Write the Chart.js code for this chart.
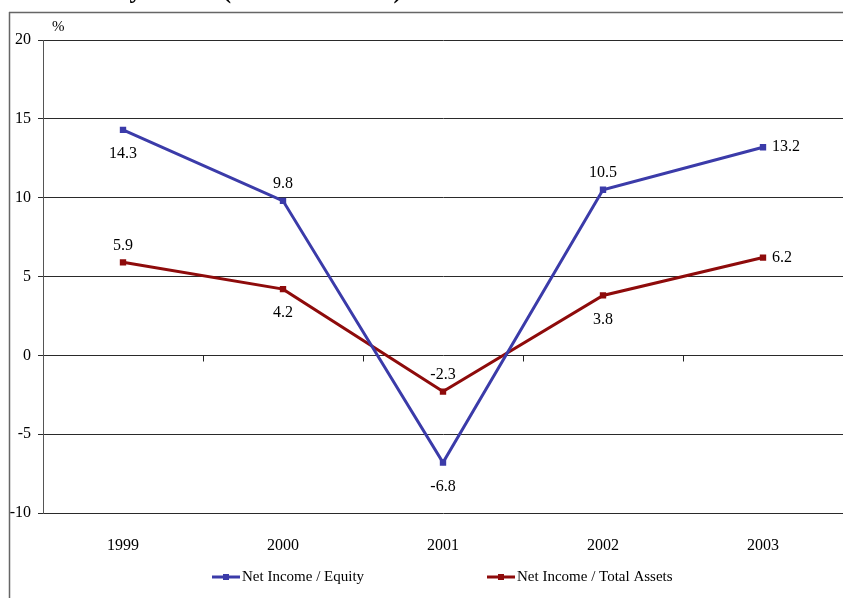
<!DOCTYPE html>
<html>
<head>
<meta charset="utf-8">
<title>Profitability Ratios (ROE and ROA)</title>
<script src="https://cdn.jsdelivr.net/npm/chart.js@4/dist/chart.umd.min.js"></script>
<style>
  html, body { margin: 0; padding: 0; background: #fff; }
  #ratios { display: block; }
</style>
</head>
<body>
<canvas id="ratios" width="843" height="598"></canvas>
<script>
"use strict";

// years and ratios (%)
const years = ["1999", "2000", "2001", "2002", "2003"];
const roeValues = [14.3, 9.8, -6.8, 10.5, 13.2];
const roaValues = [5.9, 4.2, -2.3, 3.8, 6.2];
const yTickValues = [-10, -5, 0, 5, 10, 15, 20];

// where each value label sits relative to its point
const roeLabelSide = ["below", "above", "below", "above", "right"];
const roaLabelSide = ["above", "below", "above", "below", "right"];

const FONT = "'Liberation Serif', 'Times New Roman', serif";
const BLUE = "#3b3ba9";
const RED = "#8e0b0b";

// frame, cut-off title and the "%" unit
const framePlugin = {
  id: "frame",
  beforeDraw(chart) {
    const ctx = chart.ctx;
    ctx.save();
    ctx.fillStyle = "#000";
    ctx.font = "bold 25px " + FONT;
    ctx.textAlign = "left";
    ctx.textBaseline = "alphabetic";
    ctx.fillText("Profitability Ratios (ROE and ROA)", 12, -2);

    ctx.strokeStyle = "#666";
    ctx.lineWidth = 1.5;
    ctx.beginPath();
    ctx.moveTo(9, 12.5);
    ctx.lineTo(chart.width, 12.5);
    ctx.moveTo(9.5, 12);
    ctx.lineTo(9.5, chart.height);
    ctx.stroke();

    ctx.font = "15px " + FONT;
    ctx.textBaseline = "middle";
    ctx.fillText("%", chart.chartArea.left + 9, chart.chartArea.top - 13);
    ctx.restore();
  },
};

// small category ticks along the zero line
const zeroTicksPlugin = {
  id: "zeroTicks",
  beforeDatasetsDraw(chart) {
    const ctx = chart.ctx;
    const x = chart.scales.x;
    const y0 = Math.round(chart.scales.y.getPixelForValue(0)) + 0.5;
    ctx.save();
    ctx.strokeStyle = "#222";
    ctx.lineWidth = 1;
    ctx.beginPath();
    for (let i = 1; i < years.length; i++) {
      const px = Math.round((x.getPixelForTick(i - 1) + x.getPixelForTick(i)) / 2) + 0.5;
      ctx.moveTo(px, y0);
      ctx.lineTo(px, y0 + 6);
    }
    ctx.stroke();
    ctx.restore();
  },
};

// value labels next to each point
const valueLabelsPlugin = {
  id: "valueLabels",
  afterDatasetsDraw(chart) {
    const ctx = chart.ctx;
    ctx.save();
    ctx.fillStyle = "#000";
    ctx.font = "16px " + FONT;
    ctx.textBaseline = "middle";
    chart.data.datasets.forEach((ds, di) => {
      const meta = chart.getDatasetMeta(di);
      meta.data.forEach((pt, i) => {
        const side = ds.labelSide[i];
        const text = ds.data[i].toFixed(1);
        if (side === "right") {
          ctx.textAlign = "left";
          ctx.fillText(text, pt.x + 9, pt.y);
        } else if (side === "above") {
          ctx.textAlign = "center";
          ctx.fillText(text, pt.x, pt.y - 17);
        } else {
          ctx.textAlign = "center";
          ctx.fillText(text, pt.x, pt.y + 24);
        }
      });
    });
    ctx.restore();
  },
};

// legend drawn below the axis labels
const legendPlugin = {
  id: "lineLegend",
  afterDraw(chart) {
    const ctx = chart.ctx;
    const starts = [212, 487];
    const ly = 577;
    ctx.save();
    chart.data.datasets.forEach((ds, di) => {
      const lx = starts[di];
      ctx.strokeStyle = ds.borderColor;
      ctx.lineWidth = 3;
      ctx.beginPath();
      ctx.moveTo(lx, ly);
      ctx.lineTo(lx + 28, ly);
      ctx.stroke();
      ctx.fillStyle = ds.borderColor;
      ctx.fillRect(lx + 11, ly - 3, 6, 6);
      ctx.fillStyle = "#000";
      ctx.font = "15px " + FONT;
      ctx.textAlign = "left";
      ctx.textBaseline = "middle";
      ctx.fillText(ds.label, lx + 30, ly);
    });
    ctx.restore();
  },
};

new Chart(document.getElementById("ratios"), {
  type: "line",
  data: {
    labels: years,
    datasets: [
      {
        label: "Net Income / Equity",
        data: roeValues,
        labelSide: roeLabelSide,
        borderColor: BLUE,
        backgroundColor: BLUE,
      },
      {
        label: "Net Income / Total Assets",
        data: roaValues,
        labelSide: roaLabelSide,
        borderColor: RED,
        backgroundColor: RED,
      },
    ],
  },
  options: {
    responsive: false,
    animation: false,
    devicePixelRatio: 1,
    layout: {
      autoPadding: false,
      padding: { top: 40, right: 0, bottom: 35, left: 0 },
    },
    elements: {
      line: { borderWidth: 3, tension: 0 },
      point: { pointStyle: "rect", radius: 4.5, borderWidth: 0, hoverRadius: 4.5 },
    },
    plugins: {
      legend: { display: false },
      tooltip: { enabled: false },
    },
    scales: {
      x: {
        type: "category",
        offset: true,
        grid: { display: false, drawTicks: false },
        border: { display: false },
        ticks: {
          color: "#000",
          font: { family: FONT, size: 16 },
          padding: 23,
          maxRotation: 0,
        },
        afterFit(scale) {
          scale.height = 50;
        },
      },
      y: {
        min: -10,
        max: 20,
        afterBuildTicks(scale) {
          scale.ticks = yTickValues.map((v) => ({ value: v }));
        },
        grid: {
          color: "#2a2a2a",
          lineWidth: 1,
          drawTicks: true,
          tickLength: 5,
          tickColor: "#2a2a2a",
        },
        border: { display: true, color: "#555", width: 1 },
        ticks: {
          color: "#000",
          font: { family: FONT, size: 16 },
          padding: 7,
        },
        afterFit(scale) {
          scale.width = 43;
        },
      },
    },
  },
  plugins: [framePlugin, zeroTicksPlugin, valueLabelsPlugin, legendPlugin],
});
</script>
</body>
</html>
